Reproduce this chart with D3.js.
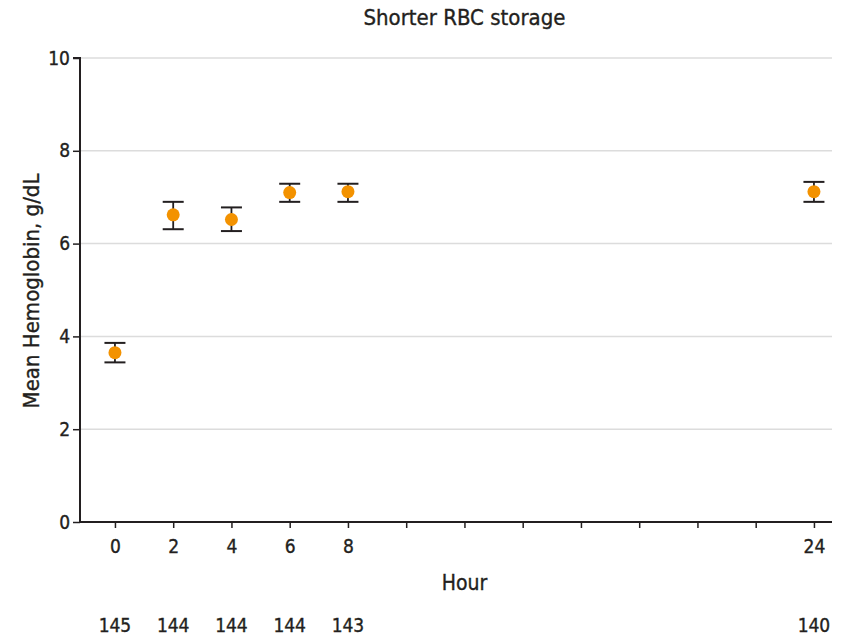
<!DOCTYPE html>
<html><head><meta charset="utf-8">
<script src="https://cdn.jsdelivr.net/npm/d3@7"></script>
<style>
body{margin:0;background:#fff;}
text{font-family:"DejaVu Sans Condensed","DejaVu Sans",sans-serif;font-stretch:condensed;fill:#231f20;stroke:#231f20;stroke-width:0.35px;}
</style></head>
<body>
<svg id="chart" width="852" height="638"></svg>
<script>
const hours = [0, 2, 4, 6, 8, 24];
const means = [3.65, 6.62, 6.52, 7.10, 7.12, 7.12];
const lower = [3.44, 6.31, 6.27, 6.90, 6.90, 6.90];
const upper = [3.86, 6.90, 6.78, 7.29, 7.29, 7.33];
const counts = [145, 144, 144, 144, 143, 140];
const xTicks = [0,2,4,6,8,10,12,14,16,18,20,22,24];
const xTickLabels = ["0","2","4","6","8","","","","","","","","24"];
const yTicks = [0,2,4,6,8,10];
const title = "Shorter RBC storage";
const xTitle = "Hour";
const yTitle = "Mean Hemoglobin, g/dL";

const svg = d3.select("#chart");
const mL = 80, mR = 832, mT = 58, mB = 522;
const x = d3.scaleLinear().domain([-1.2, 24.62]).range([mL, mR]);
const y = d3.scaleLinear().domain([0, 10]).range([mB, mT]);

// gridlines
svg.append("g").selectAll("line").data(yTicks.filter(d=>d>0)).join("line")
  .attr("x1", mL).attr("x2", mR)
  .attr("y1", d=>y(d)).attr("y2", d=>y(d))
  .attr("stroke", "#dcdcdc").attr("stroke-width", 1.5);

// y axis
const ya = svg.append("g").attr("transform", `translate(${mL},0)`)
  .call(d3.axisLeft(y).tickValues(yTicks).tickSize(7).tickPadding(3).tickFormat(d3.format("d")));
ya.select(".domain").attr("stroke", "#231f20").attr("stroke-width", 2).attr("d", `M-7,${mT}H0V${mB}`);
ya.selectAll(".tick line").attr("stroke", "#231f20").attr("stroke-width", 1.5);
ya.selectAll(".tick text").style("font-size", "19px").attr("fill", "#231f20");

// x axis
const xa = svg.append("g").attr("transform", `translate(0,${mB})`)
  .call(d3.axisBottom(x).tickValues(xTicks).tickSize(6).tickPadding(12).tickFormat((d,i)=>xTickLabels[i]));
xa.select(".domain").attr("stroke", "#231f20").attr("stroke-width", 2).attr("d", `M${mL},0H${mR}`);
xa.selectAll(".tick line").attr("stroke", "#231f20").attr("stroke-width", 1.5);
xa.selectAll(".tick text").style("font-size", "19px").attr("fill", "#231f20");

// error bars
const eb = svg.append("g");
const cap = 10.5;
eb.selectAll("line.v").data(hours).join("line").attr("class","v")
  .attr("x1", d=>x(d)).attr("x2", d=>x(d))
  .attr("y1", (d,i)=>y(upper[i])).attr("y2", (d,i)=>y(lower[i]))
  .attr("stroke", "#231f20").attr("stroke-width", 1.8);
eb.selectAll("line.t").data(hours).join("line").attr("class","t")
  .attr("x1", d=>x(d)-cap).attr("x2", d=>x(d)+cap)
  .attr("y1", (d,i)=>y(upper[i])).attr("y2", (d,i)=>y(upper[i]))
  .attr("stroke", "#231f20").attr("stroke-width", 2);
eb.selectAll("line.b").data(hours).join("line").attr("class","b")
  .attr("x1", d=>x(d)-cap).attr("x2", d=>x(d)+cap)
  .attr("y1", (d,i)=>y(lower[i])).attr("y2", (d,i)=>y(lower[i]))
  .attr("stroke", "#231f20").attr("stroke-width", 2);

// points
svg.append("g").selectAll("circle").data(hours).join("circle")
  .attr("cx", d=>x(d)).attr("cy", (d,i)=>y(means[i]))
  .attr("r", 6.5).attr("fill", "#f39200");

// titles
svg.append("text").attr("x", x(12)).attr("y", 25).attr("text-anchor","middle")
  .style("font-size","22px").text(title);
svg.append("text").attr("x", x(12)).attr("y", 590).attr("text-anchor","middle")
  .style("font-size","21px").text(xTitle);
svg.append("text").attr("transform", `translate(39,${(mT+mB)/2 + 1}) rotate(-90)`)
  .attr("text-anchor","middle").style("font-size","22px").text(yTitle);

// counts
svg.append("g").selectAll("text").data(hours).join("text")
  .attr("x", d=>x(d)).attr("y", 632).attr("text-anchor","middle")
  .style("font-size","19px").text((d,i)=>counts[i]);
</script>
</body></html>
